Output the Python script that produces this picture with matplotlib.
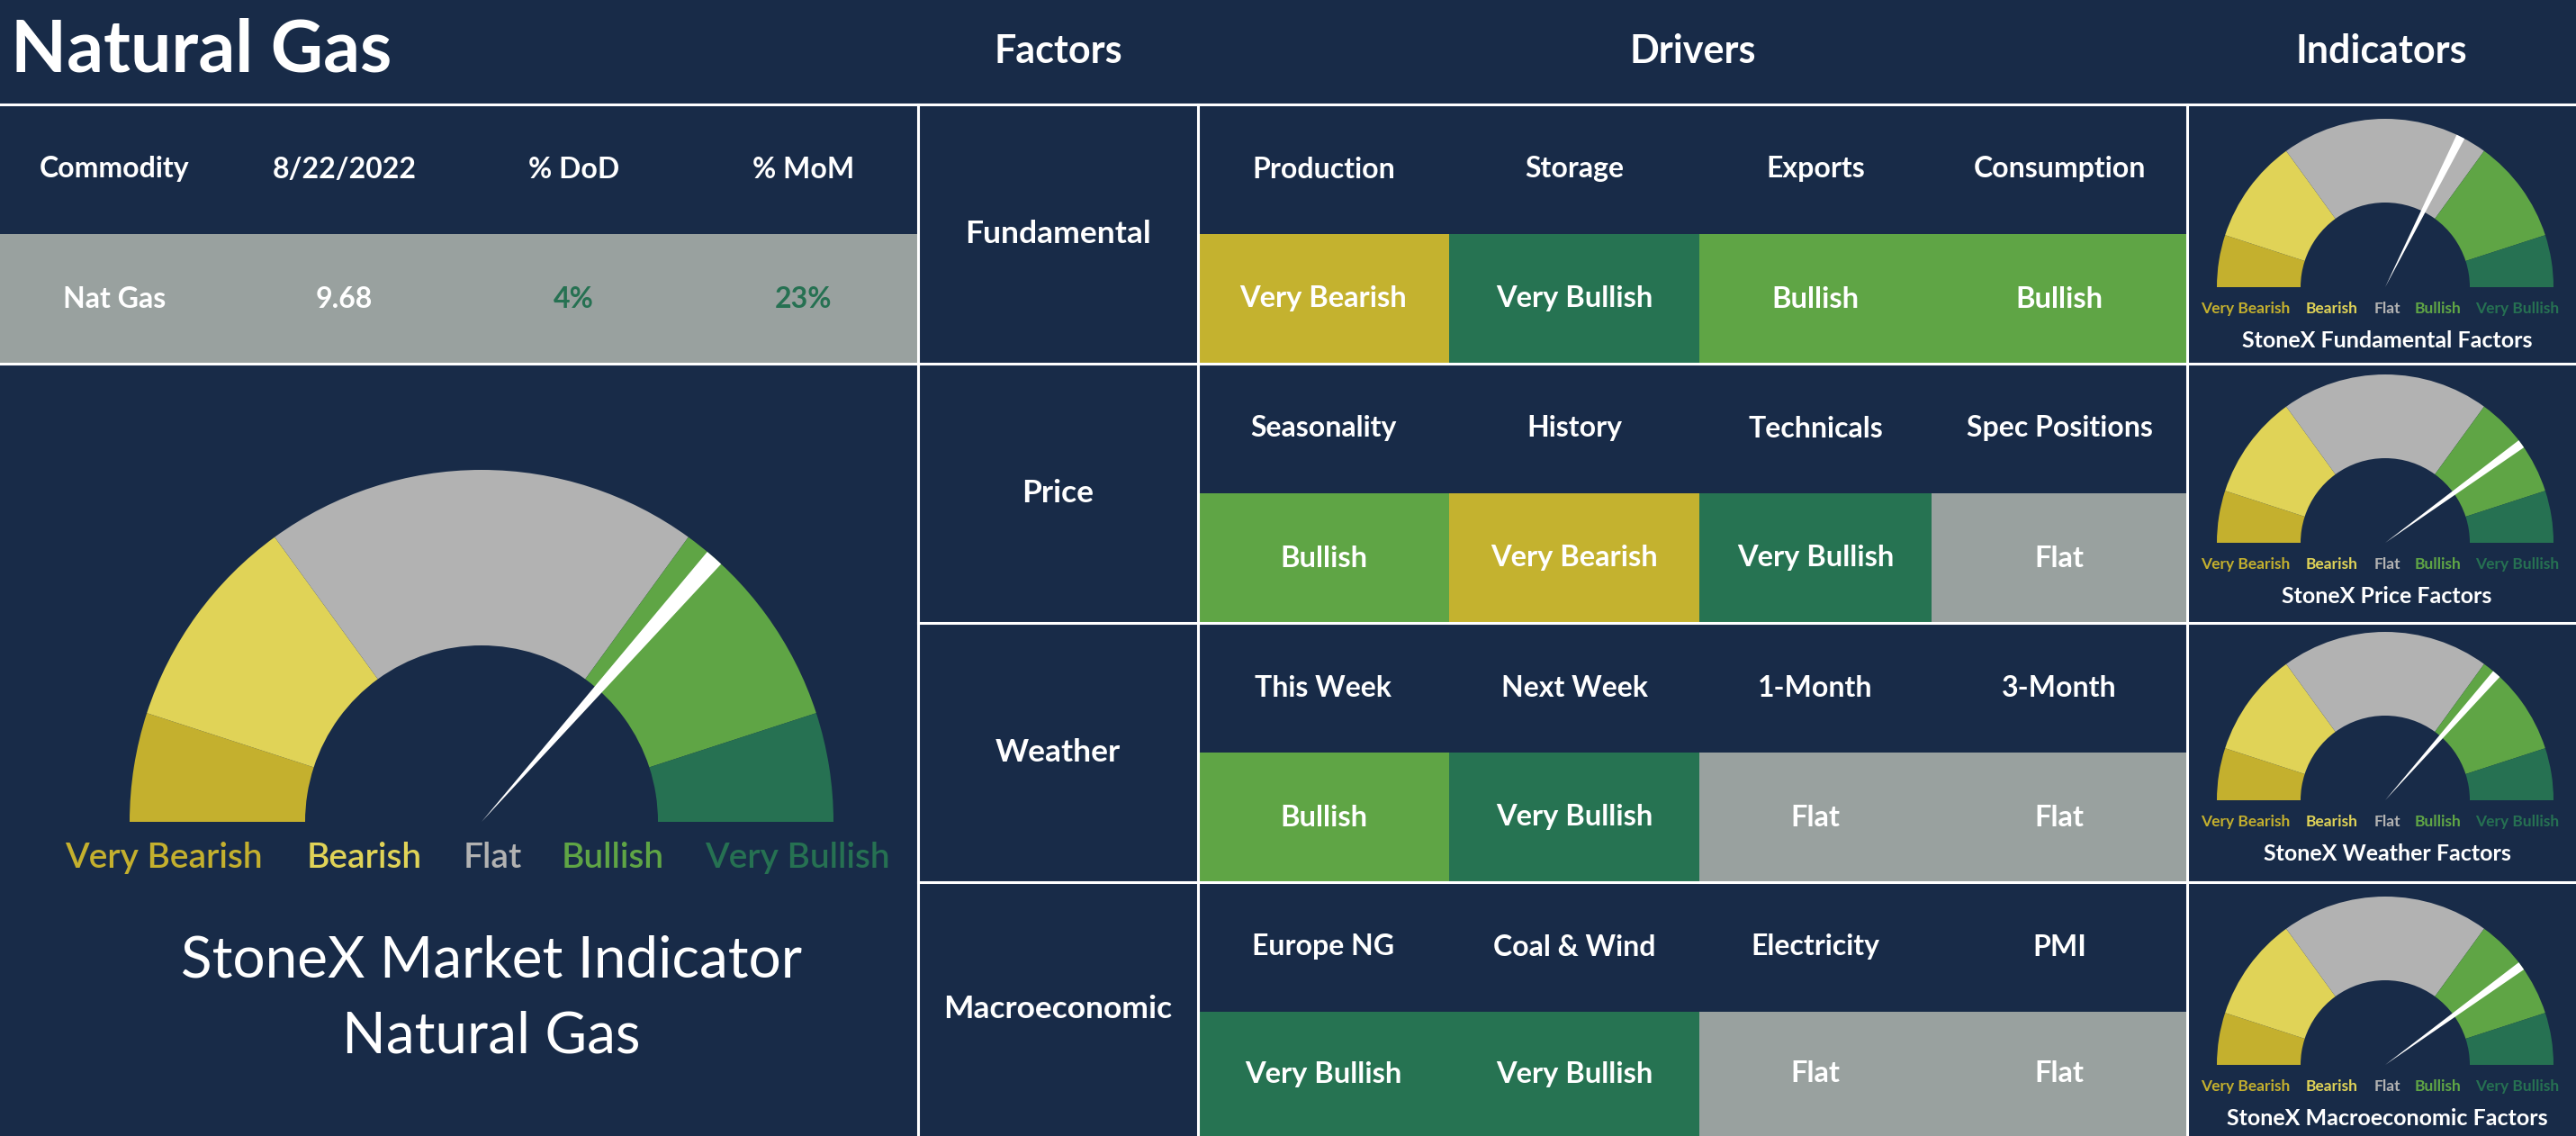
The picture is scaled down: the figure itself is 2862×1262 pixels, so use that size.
import matplotlib
matplotlib.use("Agg")
import matplotlib.pyplot as plt
from matplotlib.patches import Wedge, Rectangle

plt.rcParams['font.family'] = ['Lato', 'DejaVu Sans']

# ---------------- data ----------------
title = "Natural Gas"
categories = ["Very Bearish", "Bearish", "Flat", "Bullish", "Very Bullish"]
band_shares = [10, 20, 40, 20, 10]          # percent of the gauge arc

table_headers = ["Commodity", "8/22/2022", "% DoD", "% MoM"]
table_values = ["Nat Gas", "9.68", "4%", "23%"]

factors = ["Fundamental", "Price", "Weather", "Macroeconomic"]
drivers = [
    ["Production", "Storage", "Exports", "Consumption"],
    ["Seasonality", "History", "Technicals", "Spec Positions"],
    ["This Week", "Next Week", "1-Month", "3-Month"],
    ["Europe NG", "Coal & Wind", "Electricity", "PMI"],
]
signals = [
    ["Very Bearish", "Very Bullish", "Bullish", "Bullish"],
    ["Bullish", "Very Bearish", "Very Bullish", "Flat"],
    ["Bullish", "Very Bullish", "Flat", "Flat"],
    ["Very Bullish", "Very Bullish", "Flat", "Flat"],
]
indicator_titles = ["StoneX Fundamental Factors", "StoneX Price Factors",
                    "StoneX Weather Factors", "StoneX Macroeconomic Factors"]
indicator_needles = [64.8, 80.0, 73.0, 80.0]   # percent along the arc
overall_needle = 73.0
overall_title = ["StoneX Market Indicator", "Natural Gas"]

# ---------------- styles ----------------
NAVY = "#182B48"
WHITE = "white"
gauge_colors = {"Very Bearish": "#C4B02E", "Bearish": "#E0D357", "Flat": "#B2B2B2",
                "Bullish": "#5FA545", "Very Bullish": "#267152"}
cell_colors = {"Very Bearish": "#C4B22F", "Bearish": "#E0D357", "Flat": "#99A19F",
               "Bullish": "#5FA545", "Very Bullish": "#267352"}
label_colors = {"Very Bearish": "#C4B02E", "Bearish": "#E0D357", "Flat": "#B2B2B2",
                "Bullish": "#5FA545", "Very Bullish": "#267152"}

W, H = 2862, 1262
fig = plt.figure(figsize=(W / 100, H / 100), dpi=100)
fig.patch.set_facecolor(NAVY)
ax = fig.add_axes([0, 0, 1, 1])
ax.set_xlim(0, W)
ax.set_ylim(H, 0)
ax.axis("off")
ax.set_facecolor(NAVY)

# layout
y_head = 116
row_tops = [116, 404, 692, 980, H]
x_left, x_fac, x_drv, x_ind = 1020, 1331, 2430, W
drv_cols = [1331, 1610, 1888, 2146, 2430]
NEEDLE_W = 3.0  # degrees


def gauge(cx, cy, r_out, r_in, needle_pct, label_dy, label_dx, label_size, weight):
    start = 0.0
    for cat, share in zip(categories, band_shares):
        a1 = start * 1.8
        a2 = (start + share) * 1.8
        ax.add_patch(Wedge((cx, cy), r_out, a1 - 180, a2 - 180, width=r_out - r_in,
                           facecolor=gauge_colors[cat], edgecolor="none", zorder=2))
        start += share
    a = needle_pct * 1.8
    ax.add_patch(Wedge((cx, cy), r_out, a - NEEDLE_W / 2 - 180, a + NEEDLE_W / 2 - 180,
                       facecolor=WHITE, edgecolor="none", zorder=3))
    for cat, dx in zip(categories, label_dx):
        ax.text(cx + dx, cy + label_dy, cat, color=label_colors[cat], fontsize=label_size,
                fontweight=weight, ha="center", va="center", zorder=4)


# header
ax.text(12, 57, title, color=WHITE, fontsize=58, fontweight="bold",
        ha="left", va="center")
ax.text((x_left + x_fac) / 2, 57, "Factors", color=WHITE, fontsize=31,
        fontweight="bold", ha="center", va="center")
ax.text((x_fac + x_drv) / 2, 57, "Drivers", color=WHITE, fontsize=31,
        fontweight="bold", ha="center", va="center")
ax.text((x_drv + x_ind) / 2, 57, "Indicators", color=WHITE, fontsize=31,
        fontweight="bold", ha="center", va="center")

# commodity table
col_w = x_left / 4
mid = (row_tops[0] + row_tops[1]) / 2
ax.add_patch(Rectangle((0, mid), x_left, row_tops[1] - mid, facecolor="#99A19F",
                       edgecolor="none", zorder=1))
for i, (h, v) in enumerate(zip(table_headers, table_values)):
    cx = col_w * (i + 0.5)
    ax.text(cx, (row_tops[0] + mid) / 2, h, color=WHITE, fontsize=23,
            fontweight="bold", ha="center", va="center")
    vcol = "#267152" if "%" in v else WHITE
    ax.text(cx, (mid + row_tops[1]) / 2, v, color=vcol, fontsize=23,
            fontweight="bold", ha="center", va="center")

# factors / drivers / indicators
for r in range(4):
    top, bot = row_tops[r], row_tops[r + 1]
    half = top + 144
    ax.text((x_left + x_fac) / 2, (top + bot) / 2, factors[r], color=WHITE, fontsize=25.5,
            fontweight="bold", ha="center", va="center")
    for c in range(4):
        x0, x1 = drv_cols[c], drv_cols[c + 1]
        ax.text((x0 + x1) / 2, (top + half) / 2, drivers[r][c], color=WHITE, fontsize=23,
                fontweight="bold", ha="center", va="center")
        ax.add_patch(Rectangle((x0, half), x1 - x0, bot - half,
                               facecolor=cell_colors[signals[r][c]], edgecolor="none", zorder=1))
        ax.text((x0 + x1) / 2, (half + bot) / 2, signals[r][c], color=WHITE, fontsize=23.5,
                fontweight="bold", ha="center", va="center", zorder=2)

# small gauges
small_centers = [319, 603, 889, 1183]
for r in range(4):
    cy = small_centers[r]
    cx = 2650
    gauge(cx, cy, 187, 94, indicator_needles[r], 24, [-155, -59, 2, 59, 147], 12.5, "bold")
    ax.text(cx + 2, cy + 59, indicator_titles[r], color=WHITE, fontsize=18,
            fontweight="bold", ha="center", va="center")

# big gauge
gauge(535, 913, 391, 196, overall_needle, 40, [-353, -130, 12, 146, 351], 28, "semibold")
ax.text(546, 1067, overall_title[0], color=WHITE, fontsize=46, fontweight="normal",
        ha="center", va="center")
ax.text(546, 1151, overall_title[1], color=WHITE, fontsize=46, fontweight="normal",
        ha="center", va="center")

# grid lines
lw = 2.2
ax.plot([0, W], [y_head, y_head], color=WHITE, lw=lw, zorder=5)
ax.plot([0, W], [row_tops[1], row_tops[1]], color=WHITE, lw=lw, zorder=5)
for y in row_tops[2:4]:
    ax.plot([x_left, W], [y, y], color=WHITE, lw=lw, zorder=5)
for x in (x_left, x_fac, x_drv):
    ax.plot([x, x], [y_head, H], color=WHITE, lw=lw, zorder=5)

fig.savefig("out.png", dpi=100, facecolor=NAVY)
